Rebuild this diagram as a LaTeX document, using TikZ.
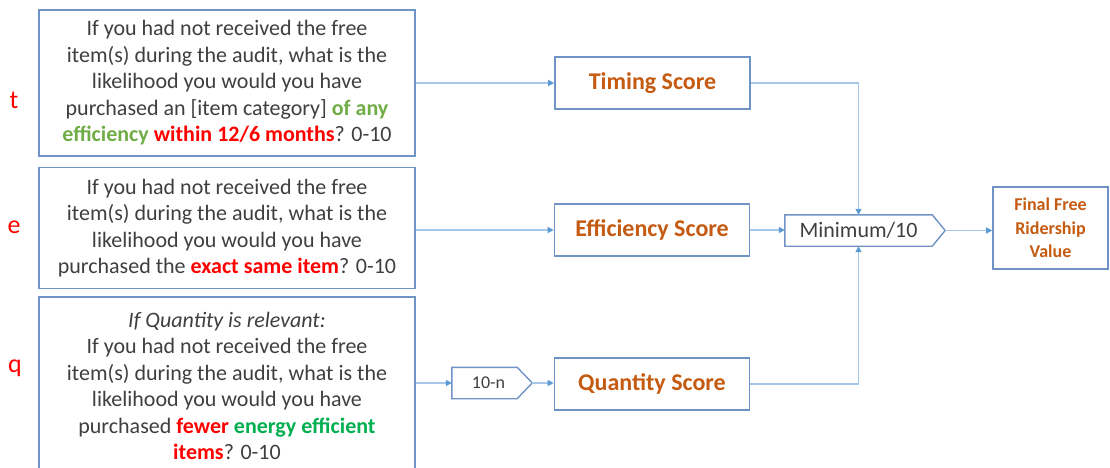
\documentclass[tikz,border=0pt]{standalone}
\usepackage{fontspec}
\setmainfont{Carlito}
\usetikzlibrary{arrows.meta}
\definecolor{boxblue}{HTML}{6F93C4}
\definecolor{lineblue}{HTML}{A7C7EA}
\definecolor{tipblue}{HTML}{5B9BD5}
\definecolor{txtgray}{HTML}{3F3F3F}
\definecolor{scoreorange}{HTML}{C55A11}
\definecolor{qred}{HTML}{FF0000}
\definecolor{qgreenA}{HTML}{70AD47}
\definecolor{qgreenB}{HTML}{00B050}
\begin{document}
\begin{tikzpicture}[x=1pt,y=-1pt,
 qbox/.style={draw=boxblue, line width=1.6pt, minimum width=376pt, align=center, text=txtgray, font=\fontsize{22}{26.5}\selectfont, inner sep=0pt},
 scorebox/.style={draw=boxblue, line width=1.6pt, minimum width=195pt, minimum height=52pt, inner sep=0pt, text=scoreorange, font=\fontsize{24}{28}\selectfont\bfseries},
 opnode/.style={minimum width=#1, minimum height=31pt, inner sep=0pt, text=txtgray},
 opline/.style={draw=boxblue, line width=1.4pt, line join=miter},
 conn/.style={draw=lineblue, line width=1.2pt, -{Triangle[length=6pt,width=6pt,color=tipblue]}},
 varlabel/.style={text=qred, font=\fontsize{26}{30}\selectfont}
]
\clip (0,0) rectangle (1110,468);
\fill[white] (0,0) rectangle (1110,468);

% variable labels
\node[varlabel] (tl) at (14,100) {t};
\node[varlabel] (el) at (14,227) {e};
\node[varlabel] (ql) at (15,368) {q};

% question boxes
\node[qbox, minimum height=146pt] (tbox) at (227,83) {If you had not received the free\\item(s) during the audit, what is the\\likelihood you would you have\\purchased an [item category] \textcolor{qgreenA}{\bfseries of any}\\\textcolor{qgreenA}{\bfseries efficiency} \textcolor{qred}{\bfseries within 12/6 months}? 0-10};
\node[qbox, minimum height=121pt] (ebox) at (227,228) {If you had not received the free\\item(s) during the audit, what is the\\likelihood you would you have\\purchased the \textcolor{qred}{\bfseries exact same item}? 0-10};
\node[qbox, minimum height=178pt] (qbox) at (227,386) {\itshape If Quantity is relevant:\\If you had not received the free\\item(s) during the audit, what is the\\likelihood you would you have\\purchased \textcolor{qred}{\bfseries fewer} \textcolor{qgreenB}{\bfseries energy efficient}\\\textcolor{qred}{\bfseries items}? 0-10};

% score boxes
\node[scorebox] (timing) at (652.5,83) {Timing Score};
\node[scorebox] (eff) at (652,230) {Efficiency Score};
\node[scorebox] (quant) at (652,384) {Quantity Score};

% 10-n operator
\node[opnode=65pt, font=\fontsize{18}{20}\selectfont] (tenn) at (484.5,383) {\hspace*{8pt}10-n};
\coordinate (tenntip) at ([xshift=15pt]tenn.east);
\draw[opline] (tenn.north west) -- (tenn.north east) -- (tenntip) -- (tenn.south east) -- (tenn.south west) -- cycle;

% minimum operator
\node[opnode=147pt, font=\fontsize{22}{24}\selectfont] (min) at (858.5,230.5) {Minimum/10};
\coordinate (mintip) at ([xshift=13pt]min.east);
\draw[opline] (min.north west) -- (min.north east) -- (mintip) -- (min.south east) -- (min.south west) -- cycle;

% final box
\node[draw=boxblue, line width=1.6pt, minimum width=115pt, minimum height=82pt, inner sep=0pt, align=center, text=scoreorange, font=\fontsize{18}{23.5}\selectfont\bfseries] (final) at (1050.5,228) {Final Free\\Ridership\\Value};

% connectors
\draw[conn] (tbox.east) -- (timing.west);
\draw[conn] (ebox.east |- eff.west) -- (eff.west);
\draw[conn] (eff.east) -- (eff.east -| min.west);
\draw[conn] (timing.east) -| (min.north);
\draw[conn] (quant.east) -| (min.south);
\draw[conn] (mintip) -- (mintip -| final.west);
\draw[conn] (qbox.east |- tenn.west) -- (tenn.west);
\draw[conn] (tenntip) -- (tenntip -| quant.west);
\end{tikzpicture}
\end{document}
